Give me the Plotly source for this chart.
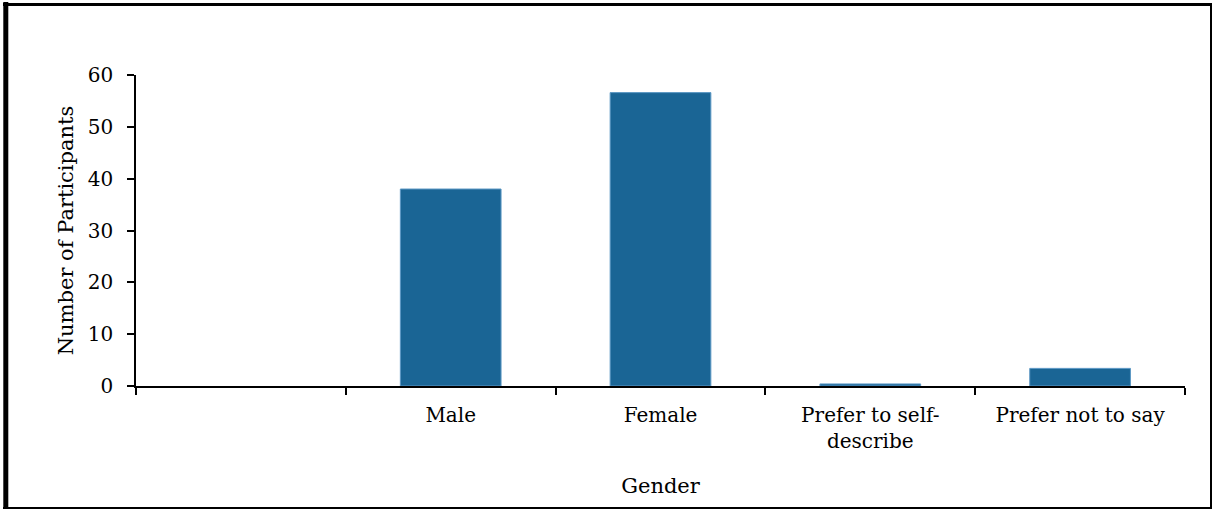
import plotly.graph_objects as go

# Gender breakdown of study participants
categories = [" ", "Male", "Female", "Prefer to self-<br>describe", "Prefer not to say"]
bar_categories = ["Male", "Female", "Prefer to self-<br>describe", "Prefer not to say"]
participants = [38, 56.6, 0.4, 3.4]

W, H = 1214, 510
L, R, T, B = 136, 29, 75, 124
pw, ph = W - L - R, H - T - B

def px(x):
    return (x - L) / pw

def py(y):
    return (H - B - y) / ph

FONT = "DejaVu Serif"

fig = go.Figure(
    go.Bar(
        x=bar_categories,
        y=participants,
        marker=dict(color="#1a6595", line=dict(color="#5b97c4", width=1)),
        width=0.48,
    )
)

fig.update_layout(
    width=W,
    height=H,
    margin=dict(l=L, r=R, t=T, b=B),
    paper_bgcolor="white",
    plot_bgcolor="white",
    showlegend=False,
    font=dict(family=FONT, size=20, color="black"),
    xaxis=dict(
        type="category",
        categoryorder="array",
        categoryarray=categories,
        range=[-0.5, 4.5],
        tickson="boundaries",
        ticks="outside",
        ticklen=7,
        tickwidth=1.5,
        tickcolor="black",
        showline=True,
        linecolor="black",
        linewidth=2,
        showgrid=False,
        zeroline=False,
        ticklabelstandoff=10,
        title=dict(text="Gender", font=dict(family=FONT, size=21), standoff=26),
    ),
    yaxis=dict(
        range=[0, 60],
        tickvals=[0, 10, 20, 30, 40, 50, 60],
        ticks="outside",
        ticklen=7,
        tickwidth=1.5,
        tickcolor="black",
        showline=True,
        linecolor="black",
        linewidth=1.5,
        showgrid=False,
        zeroline=False,
        ticklabelstandoff=10,
        title=dict(text="Number of Participants", font=dict(family=FONT, size=21), standoff=8),
    ),
    shapes=[
        # outer frame
        dict(type="line", xref="paper", yref="paper", x0=px(5.8), x1=px(5.8), y0=py(2), y1=py(509),
             line=dict(color="black", width=5)),
        dict(type="line", xref="paper", yref="paper", x0=px(3), x1=px(1212), y0=py(4.5), y1=py(4.5),
             line=dict(color="black", width=3)),
        dict(type="line", xref="paper", yref="paper", x0=px(1211), x1=px(1211), y0=py(3), y1=py(509),
             line=dict(color="black", width=2)),
        dict(type="line", xref="paper", yref="paper", x0=px(3), x1=px(1212), y0=py(508), y1=py(508),
             line=dict(color="black", width=2)),
    ],
)

fig.write_html("out.html")
